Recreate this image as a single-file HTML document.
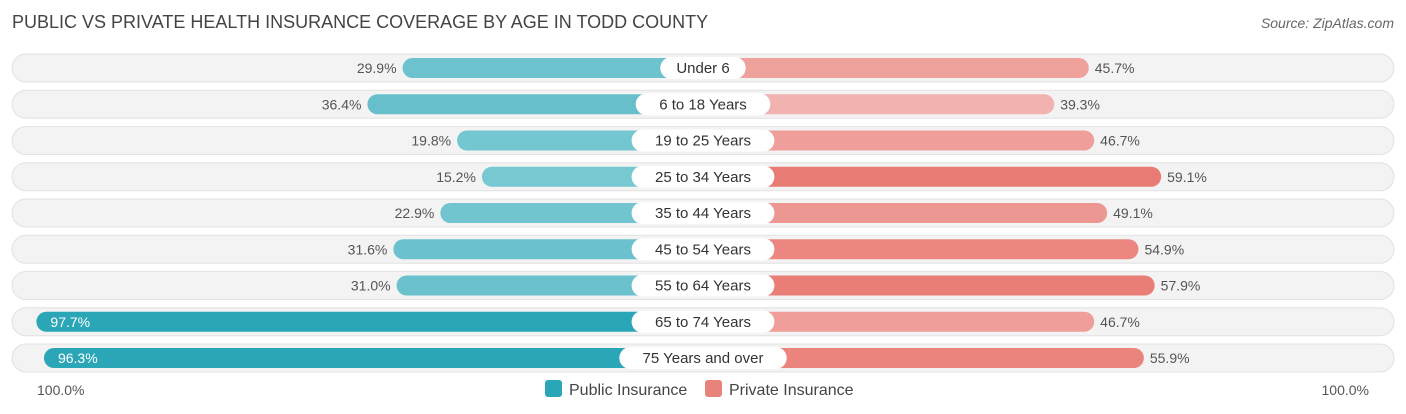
<!DOCTYPE html>
<html><head><meta charset="utf-8"><style>
body{margin:0;width:1406px;height:414px;background:#fff;font-family:"Liberation Sans",Arial,sans-serif;position:relative;overflow:hidden}
.t{position:absolute;left:12px;top:12px;font-size:18px;color:#444}
.s{position:absolute;right:12px;top:15px;font-size:14px;color:#666;font-style:italic}
</style></head><body>
<div class="t">PUBLIC VS PRIVATE HEALTH INSURANCE COVERAGE BY AGE IN TODD COUNTY</div>
<div class="s">Source: ZipAtlas.com</div>
<svg id="c" width="1406" height="414" style="position:absolute;left:0;top:0"></svg>
<script>
const categories=["Under 6","6 to 18 Years","19 to 25 Years","25 to 34 Years","35 to 44 Years","45 to 54 Years","55 to 64 Years","65 to 74 Years","75 Years and over"];
const publicValues=[29.9,36.4,19.8,15.2,22.9,31.6,31.0,97.7,96.3];
const privateValues=[45.7,39.3,46.7,59.1,49.1,54.9,57.9,46.7,55.9];
const axisLabels=["100.0%","100.0%"];
const svg=document.getElementById('c');const NS='http://www.w3.org/2000/svg';
const cx=703,off=139,k=5.4,y0=68,dy=36.25;
function len(v){return off+k*v}
function mk(t,a,p){const e=document.createElementNS(NS,t);for(const x in a)e.setAttribute(x,a[x]);(p||svg).appendChild(e);return e}
function mix(a,b,t){return 'rgb('+a.map((c,i)=>Math.round(c+(b[i]-c)*t)).join(',')+')'}
categories.forEach((c,i)=>{
 const y=y0+i*dy;
 const g=mk('g',{});
 
 
 const bg=mk('rect',{x:12,y:y-14,width:1382,height:28,rx:14,fill:'#f3f3f3',stroke:'#e2e2e2'},g);
 
 
 const pv=publicValues[i],rv=privateValues[i];
 const lp=len(pv);
 const b1=mk('rect',{x:cx-lp,y:y-10,width:lp,height:20,rx:10,fill:pv>80?'#2ba6b7':mix([132,206,214],[100,190,202],pv/40)},g);
 
 
 const lr=len(rv);
 const b2=mk('rect',{x:cx,y:y-10,width:lr,height:20,rx:10,fill:mix([243,183,180],[232,120,112],(rv-38)/22)},g);
 
 
 const inside=pv>80;
 const t1=mk('text',{x:inside?cx-lp+14:cx-lp-6,y:y+5,'font-size':14,fill:inside?'#fff':'#555','text-anchor':inside?'start':'end'},g);
 t1.textContent=pv.toFixed(1)+'%';
 
 
 const t2=mk('text',{x:cx+lr+6,y:y+5,'font-size':14,fill:'#555'},g);
 t2.textContent=rv.toFixed(1)+'%';
 
 
 const w=c.length*8.2+28;
 const pl=mk('rect',{x:cx-w/2,y:y-11,width:w,height:22,rx:11,fill:'#fff'},g);
 
 
 const tl=mk('text',{x:cx,y:y+5,'font-size':15,fill:'#333','text-anchor':'middle'},g);
 tl.textContent=c;
 
 
});
const a1=mk('text',{x:37,y:395,'font-size':14,fill:'#555'});a1.textContent=axisLabels[0];


const a2=mk('text',{x:1369,y:395,'font-size':14,fill:'#555','text-anchor':'end'});a2.textContent=axisLabels[1];


const lg=mk('g',{});


const r1=mk('rect',{x:545,y:380,width:17,height:17,rx:3,fill:'#2ba6b7'},lg);


const l1=mk('text',{x:569,y:395,'font-size':16,fill:'#444'},lg);l1.textContent='Public Insurance';


const r2=mk('rect',{x:705,y:380,width:17,height:17,rx:3,fill:'#e8837b'},lg);


const l2=mk('text',{x:729,y:395,'font-size':16,fill:'#444'},lg);l2.textContent='Private Insurance';


</script>
</body></html>
